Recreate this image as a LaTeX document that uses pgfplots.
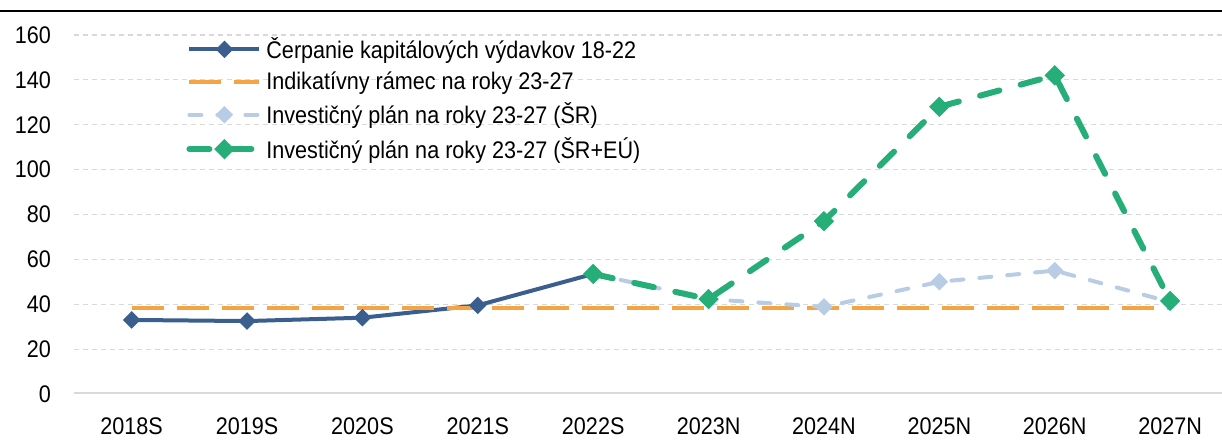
\documentclass[border=0pt]{standalone}
\usepackage{fontspec}
\setmainfont{Liberation Sans}[FakeStretch=0.9]
\usepackage{pgfplots}
\pgfplotsset{compat=1.18}

\definecolor{cblue}{HTML}{3A5F8F}
\definecolor{corange}{HTML}{F4A443}
\definecolor{clight}{HTML}{B8CCE4}
\definecolor{cgreen}{HTML}{25AE78}
\definecolor{cgrid}{HTML}{D9D9D9}

\begin{document}
\begin{tikzpicture}
\begin{axis}[
  scale only axis,
  width=574pt, height=179.5pt,
  xmin=-0.5, xmax=9.45,
  ymin=0, ymax=160,
  axis line style={draw=none},
  xtick={0,...,9},
  xticklabels={2018S,2019S,2020S,2021S,2022S,2023N,2024N,2025N,2026N,2027N},
  ytick={20,40,...,160},
  extra y ticks={0},
  extra y tick style={grid=none},
  ymajorgrids,
  major grid style={cgrid, line width=0.6pt, dash pattern=on 2.5pt off 2pt},
  tick style={draw=none},
  ticklabel style={font=\fontsize{12}{14}\selectfont},
  /pgf/number format/assume math mode=true,
  yticklabel style={xshift=-8pt},
  xticklabel style={yshift=-8.5pt},
  legend cell align=left,
  legend style={draw=none, fill=none, at={(rel axis cs:0,1)}, anchor=north west,
    xshift=55pt, yshift=2pt, font=\fontsize{12}{14}\selectfont, row sep=1.2pt, inner sep=1pt},
  legend image code/.code={\draw[mark repeat=2, mark phase=2, #1] plot coordinates {(0pt,0pt) (17.5pt,0pt) (35pt,0pt)};},
  every axis plot/.append style={mark size=2.1pt, mark options={solid, rotate=45}},
]
\draw[cgrid, line width=1.5pt] (rel axis cs:0,0) -- (rel axis cs:1,0);

\addplot[cblue, line width=2pt, mark=square*]
  coordinates {(0,33) (1,32.5) (2,34) (3,39.5) (4,53.5)};
\addlegendentry{Čerpanie kapitálových výdavkov 18-22}

\addplot[corange, line width=2pt, dash pattern=on 16pt off 6.5pt]
  coordinates {(0,38.3) (1,38.3) (2,38.3) (3,38.3) (4,38.3) (5,38.3) (6,38.3) (7,38.3) (8,38.3) (9,38.3)};
\addlegendentry{Indikatívny rámec na roky 23-27}

\addplot[clight, line width=2pt, line cap=round, dash pattern=on 6pt off 8pt, mark=square*]
  coordinates {(4,53.5) (5,42.3) (6,38.8) (7,50) (8,55) (9,41)};
\addlegendentry{Investičný plán na roky 23-27 (ŠR)}

\addplot[cgreen, line width=3pt, line cap=round, dash pattern=on 10pt off 11pt, mark=square*]
  coordinates {(4,53.5) (5,42.3) (6,77) (7,128) (8,142) (9,41.5)};
\addlegendentry{Investičný plán na roky 23-27 (ŠR+EÚ)}

\coordinate (TL) at (rel axis cs:0,1);
\coordinate (BR) at (rel axis cs:1,0);
\end{axis}
\draw[black, line width=0.8pt] ([xshift=-37pt,yshift=12pt]TL) -- ([yshift=12pt]TL -| BR);
\pgfresetboundingbox
\path[use as bounding box] ([xshift=-37pt,yshift=17.5pt]TL) rectangle ([yshift=-24pt]BR);
\end{tikzpicture}
\end{document}
